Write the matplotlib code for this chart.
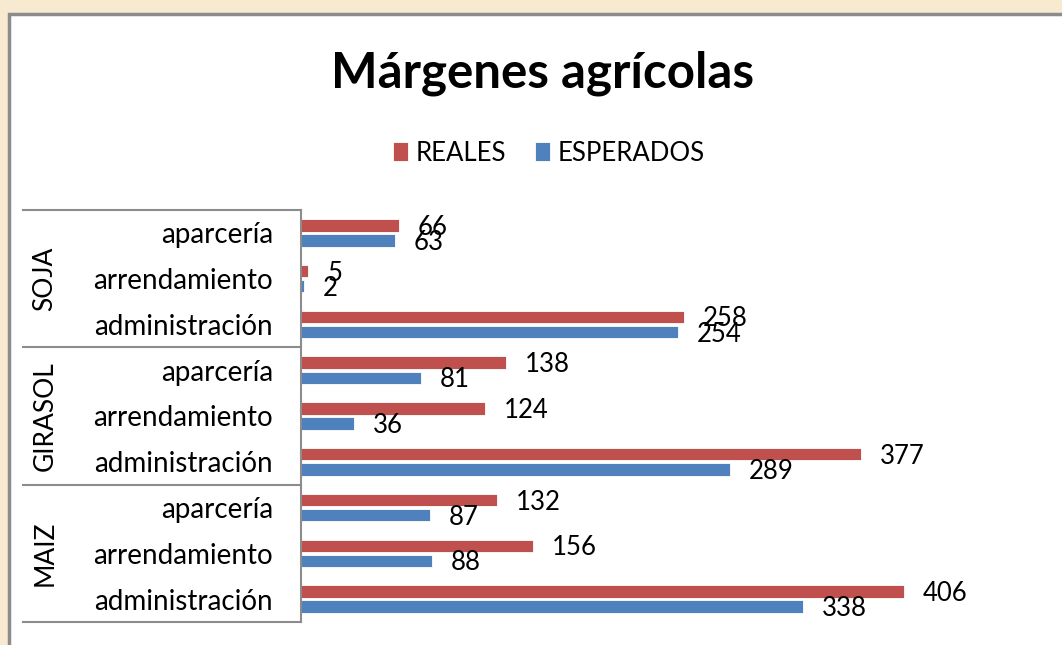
import matplotlib.pyplot as plt
from matplotlib.patches import Rectangle
from matplotlib.lines import Line2D
import numpy as np

# data, bottom to top as drawn
groups = ["MAIZ", "GIRASOL", "SOJA"]
kinds = ["administración", "arrendamiento", "aparcería"]
reales = [406, 156, 132, 377, 124, 138, 258, 5, 66]
esperados = [338, 88, 87, 289, 36, 81, 254, 2, 63]

RED = "#C0504D"
BLUE = "#4F81BD"
GRAY = "#8c8c8c"

plt.rcParams['font.family'] = ['Lato', 'DejaVu Sans']

W, H = 1062, 645
fig = plt.figure(figsize=(W / 100, H / 100), dpi=100)
fig.patch.set_facecolor("#f8ead0")


def fx(px):
    return px / W


def fy(py):
    return 1 - py / H


# white chart area with gray border, running off the right and bottom
fig.add_artist(Rectangle((fx(9), -0.05), 1.1, fy(14) + 0.05,
                         transform=fig.transFigure, facecolor="white",
                         edgecolor=GRAY, linewidth=2.5, zorder=-5))

x0, x1 = 301, 1043.5
y_top, y_bot = 210, 622
ax = fig.add_axes([fx(x0), fy(y_bot), fx(x1) - fx(x0), fy(y_top) - fy(y_bot)])
ax.set_facecolor("none")
ax.set_zorder(3)

n = len(reales)
y = np.arange(n)
h = 0.27
off = 0.165
ax.barh(y + off, reales, height=h, color=RED, edgecolor="white", linewidth=0.6,
        label="REALES")
ax.barh(y - off, esperados, height=h, color=BLUE, edgecolor="white", linewidth=0.6,
        label="ESPERADOS")

for yi, v in zip(y, reales):
    ax.annotate(str(v), (v, yi + off), xytext=(13.5, -1.5), textcoords="offset points",
                va="center", ha="left", fontsize=18.5)
for yi, v in zip(y, esperados):
    ax.annotate(str(v), (v, yi - off), xytext=(13.5, -1.5), textcoords="offset points",
                va="center", ha="left", fontsize=18.5)

ax.set_xlim(0, 500)
ax.set_ylim(-0.5, n - 0.5)
ax.set_yticks(y)
ax.set_yticklabels(kinds * len(groups), fontsize=20)
ax.tick_params(axis="y", length=0, pad=20)
ax.set_xticks([])
for s in ["top", "right", "bottom"]:
    ax.spines[s].set_visible(False)
ax.spines["left"].set_color(GRAY)
ax.spines["left"].set_linewidth(1.5)

# group separators and group names
bounds = np.linspace(y_top, y_bot, len(groups) + 1)
for b in bounds:
    fig.add_artist(Line2D([fx(23), fx(x0)], [fy(b), fy(b)], color=GRAY, lw=1.5))
for i, g in enumerate(groups):
    yc = (bounds[len(groups) - i] + bounds[len(groups) - 1 - i]) / 2
    fig.text(fx(45), fy(yc), g, rotation=90, ha="center", va="center", fontsize=19)

fig.text(fx(543), fy(73), "Márgenes agrícolas", ha="center", va="center",
         fontsize=35.5, fontweight="bold")

handles, labels = ax.get_legend_handles_labels()
fig.legend(handles, labels, loc="center", bbox_to_anchor=(fx(549), fy(153)), ncol=2,
           frameon=False, fontsize=18.5, handlelength=0.6, handleheight=0.72,
           handletextpad=0.3, columnspacing=1.1)

fig.savefig("out.png", dpi=100, facecolor=fig.get_facecolor())
